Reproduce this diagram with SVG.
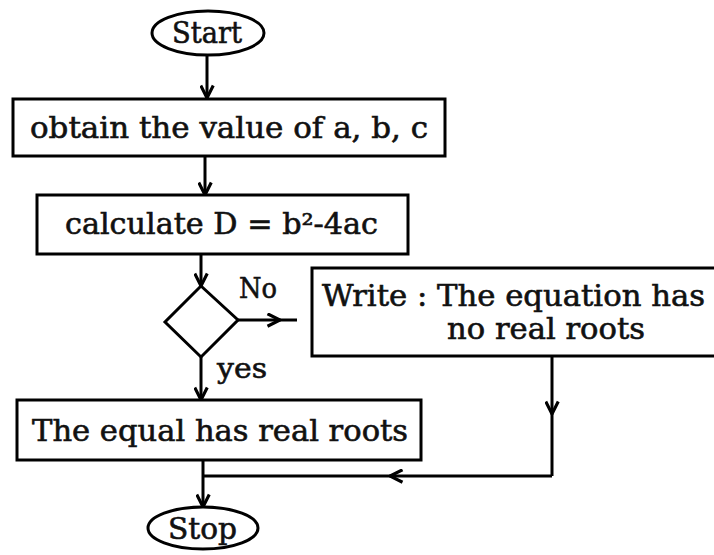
<svg xmlns="http://www.w3.org/2000/svg" width="714" height="555" viewBox="0 0 714 555">
<style>
.shape{fill:#fff;stroke:#000;stroke-width:3}
.t{font-family:"DejaVu Serif","Liberation Serif",serif;font-size:29px;fill:#111;stroke:#111;stroke-width:0.6}
.lbl{font-family:"DejaVu Serif","Liberation Serif",serif;font-size:28px;fill:#111;stroke:#111;stroke-width:0.6}
.c{fill:none;stroke:#000;stroke-width:3}
</style>
<defs>
<marker id="ah" viewBox="0 0 12 12" refX="11" refY="6" markerWidth="15" markerHeight="15" markerUnits="userSpaceOnUse" orient="auto">
<path d="M1,1 L11,6 L1,11" fill="none" stroke="#000" stroke-width="2.5"/>
</marker>
</defs>
<rect width="714" height="555" fill="#fff"/>
<g id="connectors">
<path class="c" d="M207,55 L207,98" marker-end="url(#ah)"/>
<path class="c" d="M205,156 L205,195" marker-end="url(#ah)"/>
<path class="c" d="M201,254 L201,286" marker-end="url(#ah)"/>
<path class="c" d="M238,320 L280,320 L297,320" marker-mid="url(#ah)"/>
<path class="c" d="M201,357 L201,400" marker-end="url(#ah)"/>
<path class="c" d="M552,356 L552,414 L552,476" marker-mid="url(#ah)"/>
<path class="c" d="M552,476 L390,476 L203,476" marker-mid="url(#ah)"/>
<path class="c" d="M203,460 L203,507" marker-end="url(#ah)"/>
</g>
<g id="start">
<ellipse class="shape" cx="208" cy="33" rx="56" ry="22"/>
<text class="t" x="172" y="43" textLength="70" lengthAdjust="spacingAndGlyphs">Start</text>
</g>
<g id="obtain">
<rect class="shape" x="13" y="99" width="432" height="57"/>
<text class="t" x="30" y="138" textLength="398" lengthAdjust="spacingAndGlyphs">obtain the value of a, b, c</text>
</g>
<g id="calculate">
<rect class="shape" x="37" y="195" width="371" height="59"/>
<text class="t" x="65" y="234" textLength="313" lengthAdjust="spacingAndGlyphs">calculate D = b²-4ac</text>
</g>
<g id="decision">
<polygon class="shape" points="201,286 238,320 201,357 165,322"/>
</g>
<text class="lbl" x="239" y="298" textLength="38" lengthAdjust="spacingAndGlyphs">No</text>
<text class="lbl" x="217" y="378" textLength="50" lengthAdjust="spacingAndGlyphs">yes</text>
<g id="write">
<rect class="shape" x="312" y="268" width="410" height="88"/>
<text class="t" x="322" y="306" textLength="383" lengthAdjust="spacingAndGlyphs">Write : The equation has</text>
<text class="t" x="447" y="339" textLength="198" lengthAdjust="spacingAndGlyphs">no real roots</text>
</g>
<g id="real">
<rect class="shape" x="17" y="400" width="404" height="60"/>
<text class="t" x="32" y="441" textLength="376" lengthAdjust="spacingAndGlyphs">The equal has real roots</text>
</g>
<g id="stop">
<ellipse class="shape" cx="203" cy="528" rx="55" ry="21"/>
<text class="t" x="168" y="539" textLength="69" lengthAdjust="spacingAndGlyphs">Stop</text>
</g>
</svg>
